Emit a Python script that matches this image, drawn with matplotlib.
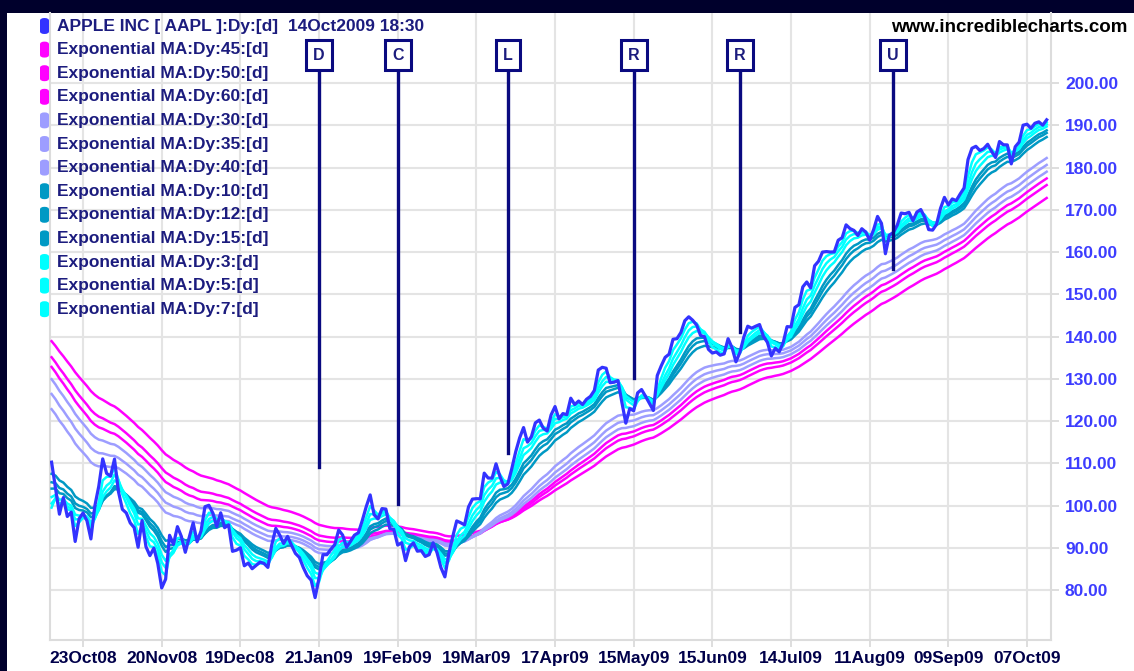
import numpy as np
import matplotlib
matplotlib.use("Agg")
import matplotlib.pyplot as plt
from matplotlib.patches import Rectangle, FancyBboxPatch

# AAPL daily closes, 13Oct2008 .. 14Oct2009
close = [
    # Oct08
    110.26, 104.08, 97.95, 101.89, 97.40, 98.44, 91.49, 96.87, 98.23, 96.38, 92.09, 99.91, 104.55, 111.04, 107.59,
    # Nov08
    106.96, 110.99, 103.30, 99.10, 98.24, 95.88, 94.77, 90.12, 96.44, 90.24, 88.14, 89.91, 86.29, 80.49, 82.58,
    92.95, 90.80, 95.00, 92.67,
    # Dec08
    88.93, 92.47, 95.90, 91.41, 94.00, 99.72, 100.06, 98.21, 95.00, 98.27, 94.75, 95.43, 89.16, 89.43, 90.00,
    85.74, 86.38, 85.04, 85.81, 86.61, 86.29, 85.35,
    # Jan09
    90.75, 94.58, 93.02, 91.01, 92.70, 90.58, 88.66, 87.71, 85.33, 83.38, 82.33, 78.20, 82.83, 88.36, 88.36,
    89.64, 90.73, 94.20, 93.00, 90.13,
    # Feb09
    91.51, 92.98, 93.55, 96.46, 99.72, 102.51, 97.83, 96.82, 99.27, 99.16, 94.53, 94.37, 90.64, 91.20, 86.95,
    90.25, 91.16, 89.19, 89.31,
    # Mar09
    87.94, 88.37, 91.17, 88.84, 85.30, 83.11, 88.63, 92.68, 96.35, 95.93, 95.42, 99.66, 101.52, 101.62, 101.59,
    107.66, 106.50, 106.49, 109.87, 106.85, 104.49, 105.12,
    # Apr09
    108.69, 112.71, 115.99, 118.45, 115.00, 116.32, 119.57, 120.22, 118.31, 117.64, 121.45, 123.42, 120.50,
    121.76, 121.51, 125.40, 123.90, 124.73, 123.90, 125.14, 125.83,
    # May09
    127.24, 132.07, 132.71, 132.50, 129.06, 129.19, 129.57, 124.42, 119.49, 122.95, 122.42, 126.65, 127.45,
    125.87, 124.18, 122.50, 130.78, 133.05, 135.07, 135.81,
    # Jun09
    139.35, 139.49, 140.95, 143.74, 144.67, 143.85, 142.72, 140.25, 139.95, 136.97, 136.09, 136.35, 135.58,
    135.88, 139.48, 137.37, 134.01, 136.22, 139.86, 142.44, 141.97, 142.43,
    # Jul09
    142.83, 140.02, 138.61, 135.40, 137.22, 136.36, 138.52, 142.34, 142.27, 146.88, 147.52, 151.75, 152.91,
    151.51, 156.74, 157.82, 159.99, 160.10, 160.00, 160.03, 162.79, 163.39,
    # Aug09
    166.43, 165.55, 165.11, 163.91, 165.51, 164.72, 162.83, 165.31, 168.42, 166.78, 159.59, 164.00, 164.60,
    166.33, 169.22, 169.06, 169.40, 167.41, 169.45, 170.05, 168.21,
    # Sep09
    165.30, 165.18, 166.55, 170.31, 172.93, 171.14, 172.56, 172.16, 173.72, 175.16, 181.87, 184.55, 185.02,
    184.02, 184.48, 185.50, 183.82, 182.37, 186.15, 185.38, 185.35,
    # Oct09
    180.86, 184.90, 186.02, 190.01, 190.25, 189.27, 190.47, 190.81, 190.02, 191.29,
]

# EMA groups: periods, value on the first bar, colour
slow_periods = [45, 50, 60]
slow_start = [132.8, 135.1, 138.9]
mid_periods = [30, 35, 40]
mid_start = [122.8, 126.4, 129.9]
fast_periods = [10, 12, 15]
fast_start = [104.0, 105.5, 107.5]
short_periods = [3, 5, 7]
short_start = [99.5, 100.5, 102.0]

# x labels every 20 bars
tick_idx = [8, 28, 48, 68, 88, 108, 128, 148, 168, 188, 208, 228, 248]
tick_lbl = ["23Oct08", "20Nov08", "19Dec08", "21Jan09", "19Feb09", "19Mar09", "17Apr09",
            "15May09", "15Jun09", "14Jul09", "11Aug09", "09Sep09", "07Oct09"]
y_ticks = [80, 90, 100, 110, 120, 130, 140, 150, 160, 170, 180, 190, 200]

# annotations: letter, bar, bottom of the line
note_txt = ["D", "C", "L", "R", "R", "U"]
note_idx = [68, 88, 116, 148, 175, 214]
note_end = [109.1, 100.4, 112.4, 130.2, 141.1, 156.0]

MAGENTA = "#ff00ff"
LAVENDER = "#9d9dff"
TEAL = "#0099c4"
CYAN = "#00ffff"
PRICE = "#3333ff"
NAVY = "#1c1c7e"


def ema(prices, n, start):
    a = 2.0 / (n + 1)
    out = [start]
    for p in prices[1:]:
        out.append(out[-1] + a * (p - out[-1]))
    return out


W, H = 1134, 671
fig = plt.figure(figsize=(W / 100, H / 100), dpi=100)
fig.patch.set_facecolor("#00002c")
fig.add_artist(Rectangle((7 / W, 0), 1, 1 - 13 / H, transform=fig.transFigure,
                         facecolor="white", edgecolor="none", zorder=0))

ax = fig.add_axes([50 / W, 1 - 640 / H, (1051 - 50) / W, (640 - 13) / H])
ax.set_facecolor("white")
x = np.arange(len(close))

for periods, starts, col in [(slow_periods, slow_start, MAGENTA),
                             (mid_periods, mid_start, LAVENDER),
                             (fast_periods, fast_start, TEAL),
                             (short_periods, short_start, CYAN)]:
    for n, s in zip(periods, starts):
        ax.plot(x, ema(close, n, s), color=col, lw=1.8, zorder=3)
ax.plot(x, close, color=PRICE, lw=2.3, zorder=4)

ax.set_xlim(-0.4, 254.1)
ax.set_ylim(68.17, 216.57)

ax.set_xticks(tick_idx)
ax.set_xticklabels(tick_lbl, family=["Liberation Sans Narrow", "Liberation Sans"],
                   fontsize=12.5, fontweight="bold", color="#00004a")
ax.set_yticks(y_ticks)
ax.set_yticklabels(["%.2f" % v for v in y_ticks], family="Liberation Sans",
                   fontsize=12.5, fontweight="bold", color="#3d3dff")
ax.yaxis.tick_right()
ax.tick_params(axis="y", length=6, color="#d8d8d8", width=1.2, pad=4)
ax.tick_params(axis="x", length=5, color="#d8d8d8", width=1.2, pad=3)
ax.grid(True, color="#e4e4e4", lw=1.5, zorder=0)
for side in ["left", "right", "bottom"]:
    ax.spines[side].set_color("#dcdcdc")
    ax.spines[side].set_linewidth(1.5)
ax.spines["top"].set_visible(False)

# event markers
for t, i, e in zip(note_txt, note_idx, note_end):
    ax.plot([i, i], [e, 205], color="#0a0a80", lw=2.4, zorder=5)
    ax.text(i, 206.6, t, ha="center", va="center", fontsize=11.5, fontweight="bold",
            family="Liberation Sans", color=NAVY, zorder=6,
            bbox=dict(boxstyle="square,pad=0.45", fc="white", ec="#0a0a80", lw=2.2))

# legend, laid out the way the charting site does it
legend_rows = [("APPLE INC [ AAPL ]:Dy:[d]  14Oct2009 18:30", PRICE)]
legend_rows += [("Exponential MA:Dy:%d:[d]" % n, MAGENTA) for n in slow_periods]
legend_rows += [("Exponential MA:Dy:%d:[d]" % n, LAVENDER) for n in mid_periods]
legend_rows += [("Exponential MA:Dy:%d:[d]" % n, TEAL) for n in fast_periods]
legend_rows += [("Exponential MA:Dy:%d:[d]" % n, CYAN) for n in short_periods]
for k, (lbl, col) in enumerate(legend_rows):
    yc = 26 + k * 23.6
    fig.add_artist(FancyBboxPatch((40 / W, 1 - (yc + 8) / H), 9 / W, 16 / H,
                                  boxstyle="round,pad=0,rounding_size=0.004",
                                  transform=fig.transFigure, facecolor=col,
                                  edgecolor="none", zorder=7))
    fig.text(57 / W, 1 - yc / H, lbl, ha="left", va="center", fontsize=12.5,
             fontweight="bold", family="Liberation Sans", color=NAVY, zorder=8)

fig.text(1127 / W, 1 - 27 / H, "www.incrediblecharts.com", ha="right", va="center",
         fontsize=13.5, fontweight="bold", family="Liberation Sans", color="black")

fig.savefig("out.png", dpi=100, facecolor=fig.get_facecolor())
